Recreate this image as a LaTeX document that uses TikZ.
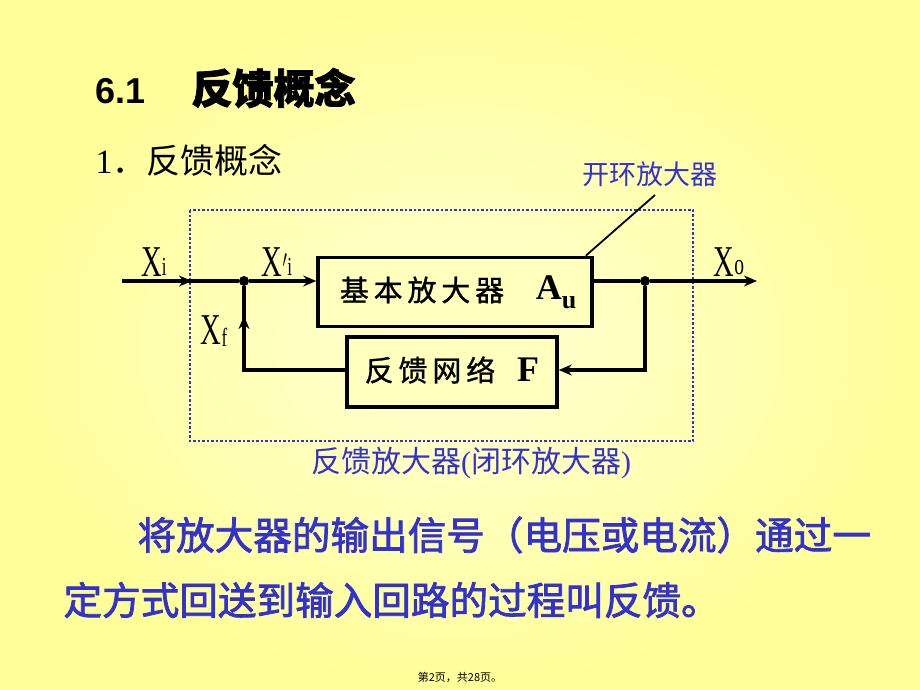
\documentclass[tikz,border=0pt]{standalone}
\usepackage{fontspec}
\setmainfont{Liberation Serif}
\setsansfont{Liberation Sans}
\newfontfamily\cjk{Noto Sans CJK SC}
\newfontfamily\cjkb{Noto Sans CJK SC}[FakeBold=2]
\newfontfamily\cjkm{Noto Sans CJK SC}[FakeBold=1]
\usetikzlibrary{arrows.meta}
\definecolor{bgy}{HTML}{FFFF99}
\definecolor{bgc}{HTML}{FFFFD6}
\definecolor{tblue}{HTML}{3333CC}
\begin{document}
\begin{tikzpicture}[x=1pt,y=-1pt,
  blk/.style={draw,line width=3.5pt,fill=bgc!60!bgy,inner sep=0},
  wire/.style={line width=3.5pt},
  arr/.style={-{Stealth[length=13pt,width=11pt]}},
  xl/.style={font=\fontsize{44}{44}\selectfont,xscale=0.65},
  dot/.style={circle,fill,inner sep=0,minimum size=10pt}]
\shade[inner color=bgc,outer color=bgy] (0,0) rectangle (920,690);
\useasboundingbox (0,0) rectangle (920,690);
\node[anchor=west,font=\sffamily\bfseries\fontsize{36}{36}\selectfont] (t1) at (92,88) {6.1\hspace{46pt}{\cjkb\fontsize{41}{41}\selectfont 反馈概念}};
\node[anchor=west,font=\fontsize{34}{34}\selectfont] (t2) at (92,160) {1{\cjk ．反馈概念}};
\node[text=tblue,font=\cjk\fontsize{27}{27}\selectfont] (open) at (650,174) {开环放大器};
\draw[tblue,dotted,line width=2.5pt] (190,210) rectangle (693,441);
\node[blk,minimum width=274pt,minimum height=69pt] (amp) at (455,292) {};
\node[font=\cjkm\fontsize{29}{29}\selectfont] (ampt) at (422,290) {基\,本\,放\,大\,器};
\node[font=\bfseries\fontsize{36}{36}\selectfont] (au) at (556,292) {A\raisebox{-9pt}{\fontsize{26}{26}\selectfont u}};
\node[blk,minimum width=210pt,minimum height=70pt] (fb) at (452,372) {};
\node[font=\cjkm\fontsize{29}{29}\selectfont] (fbt) at (430,370) {反\,馈\,网\,络};
\node[font=\bfseries\fontsize{36}{36}\selectfont] (F) at (528,370) {F};
\coordinate (in) at (122,281);
\coordinate (out) at (757,281);
\node[dot] (j1) at (244,281) {};
\node[dot] (j2) at (645,281) {};
\coordinate (c1) at (645,370);
\coordinate (c2) at (244,370);
\draw[wire,arr] (in) -- (192,281);
\draw[wire] (188,281) -- (j1);
\draw[wire,arr] (j1) -- (amp.west |- j1);
\draw[wire] (amp.east |- j2) -- (j2);
\draw[wire,arr] (j2) -- (out);
\draw[wire,arr] (j2) -- (c1) -- (fb.east |- c1);
\draw[wire] (fb.west |- c2) -- (c2) -- (244,330);
\draw[wire,arr] (244,340) -- (244,316);
\draw[wire] (244,320) -- (j1);
\draw[line width=1.8pt] (amp.north east) ++(-8,0) -- (655,195);
\node[xl] (xi) at (154,262) {X\raisebox{1pt}{\fontsize{26}{26}\selectfont i}};
\node[xl] (xi2) at (277,262) {X$'$\raisebox{1pt}{\fontsize{26}{26}\selectfont i}};
\node[xl] (xf) at (214,331) {X\raisebox{-2pt}{\fontsize{26}{26}\selectfont f}};
\node[xl] (xo) at (729,262) {X\raisebox{2pt}{\fontsize{30}{30}\selectfont o}};
\node[text=tblue,font=\fontsize{30}{30}\selectfont] (cap) at (471,463) {{\cjk 反馈放大器}({\cjk 闭环放大器})};
\node[anchor=west,text=tblue,font=\cjkb\fontsize{38.6}{38.6}\selectfont] (p1) at (134,535) {将放大器的输出信号（电压或电流）通过一};
\node[anchor=west,text=tblue,font=\cjkb\fontsize{38.6}{38.6}\selectfont] (p2) at (60,600) {定方式回送到输入回路的过程叫反馈。};
\node[font=\cjk\fontsize{11}{11}\selectfont] (foot) at (460,677) {第2页，共28页。};
\end{tikzpicture}
\end{document}
